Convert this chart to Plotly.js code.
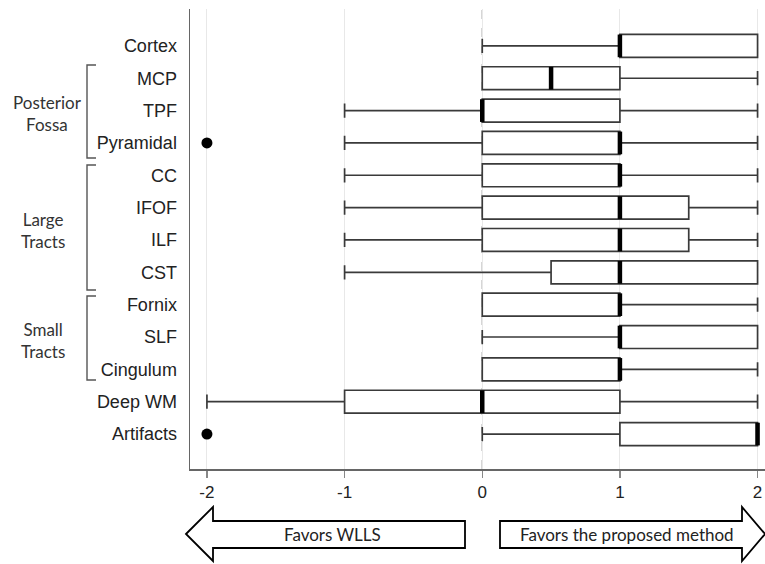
<!DOCTYPE html>
<html>
<head>
<meta charset="utf-8">
<script src="https://cdn.plot.ly/plotly-3.0.1.min.js"></script>
<style>html,body{margin:0;padding:0;background:#fff}#chart{width:765px;height:564px}</style>
</head>
<body>
<div id="chart"></div>
<script>
// ---- data ----
const categories = ['Cortex','MCP','TPF','Pyramidal','CC','IFOF','ILF','CST','Fornix','SLF','Cingulum','Deep WM','Artifacts'];
const lowerWhisker = [0, 0, -1, -1, -1, -1, -1, -1, 0, 0, 0, -2, 0];
const q1Values     = [1, 0,  0,  0,  0,  0,  0, 0.5, 0, 1, 0, -1, 1];
const medianValues = [1, 0.5, 0, 1,  1,  1,  1,  1,  1, 1, 1,  0, 2];
const q3Values     = [2, 1,  1,  1,  1, 1.5, 1.5, 2, 1, 2, 1,  1, 2];
const upperWhisker = [2, 2,  2,  2,  2,  2,  2,  2,  2, 2, 2,  2, 2];
const outlierCategories = ['Pyramidal', 'Artifacts'];
const outlierValues = [-2, -2];
const xTickValues = [-2, -1, 0, 1, 2];
const xTickLabels = ['-2', '-1', '0', '1', '2'];
const groupLabels = ['Posterior<br>Fossa', 'Large<br>Tracts', 'Small<br>Tracts'];
const arrowLabels = ['Favors WLLS', 'Favors the proposed method'];

// ---- positions (top category at top) ----
const n = categories.length;
const pos = categories.map((c, i) => n - 1 - i);
const posOf = c => pos[categories.indexOf(c)];

// plot area in pixels
const L = 190, R = 765, T = 9, B = 469;
const W = 765, H = 564;
const px = x => (x - L) / (R - L);
const py = y => (B - y) / (B - T);
const P = (x, y) => px(x).toFixed(5) + ',' + py(y).toFixed(5);

const traces = [
  {
    type: 'box', orientation: 'h',
    y: pos, q1: q1Values, median: medianValues, q3: q3Values,
    lowerfence: lowerWhisker, upperfence: upperWhisker,
    width: 0.71, whiskerwidth: 0.62,
    fillcolor: '#ffffff',
    line: {color: '#3a3a3a', width: 1.7},
    boxpoints: false, hoverinfo: 'skip', showlegend: false
  },
  {
    type: 'scatter', mode: 'markers',
    x: medianValues, y: pos,
    marker: {symbol: 'line-ns-open', size: 16.2, color: '#000', line: {color: '#000', width: 4.5}},
    hoverinfo: 'skip', showlegend: false, cliponaxis: false
  },
  {
    type: 'scatter', mode: 'markers',
    x: outlierValues, y: outlierCategories.map(posOf),
    marker: {symbol: 'circle', size: 11, color: '#000'},
    hoverinfo: 'skip', showlegend: false, cliponaxis: false
  }
];

const lineStyle = {color: '#555', width: 1.4};
function bracket(yTop, yBot) {
  return {type: 'path', xref: 'paper', yref: 'paper',
    path: 'M' + P(96, yTop) + ' L' + P(87, yTop) + ' L' + P(87, yBot) + ' L' + P(96, yBot),
    line: lineStyle};
}

const shapes = [
  {type: 'line', xref: 'x', yref: 'paper', x0: 0, x1: 0, y0: 0, y1: 1,
   line: {color: '#999', width: 1.3, dash: 'dash'}, layer: 'below'},
  bracket(65, 158), bracket(165, 290), bracket(296, 380),
  {type: 'path', xref: 'paper', yref: 'paper',
   path: 'M' + P(186, 534) + ' L' + P(213, 507) + ' L' + P(213, 521) + ' L' + P(465, 521) +
         ' L' + P(465, 548) + ' L' + P(213, 548) + ' L' + P(213, 561) + ' Z',
   line: {color: '#000', width: 1.8}, fillcolor: '#fff'},
  {type: 'path', xref: 'paper', yref: 'paper',
   path: 'M' + P(765, 534) + ' L' + P(742, 507) + ' L' + P(742, 521) + ' L' + P(500, 521) +
         ' L' + P(500, 548) + ' L' + P(742, 548) + ' L' + P(742, 561) + ' Z',
   line: {color: '#000', width: 1.8}, fillcolor: '#fff'}
];

const groupFont = {family: 'Lato, "Open Sans", sans-serif', size: 17, color: '#333'};
const annotations = [
  {text: groupLabels[0], x: px(47), y: py(113.5)},
  {text: groupLabels[1], x: px(43), y: py(230.5)},
  {text: groupLabels[2], x: px(43), y: py(340.5)}
].map(a => Object.assign(a, {xref: 'paper', yref: 'paper', showarrow: false,
  xanchor: 'center', yanchor: 'middle', align: 'center', font: groupFont}));

annotations.push(
  {text: arrowLabels[0], x: px(332), y: py(534)},
  {text: arrowLabels[1], x: px(627), y: py(534)}
);
annotations.slice(3).forEach(a => Object.assign(a, {xref: 'paper', yref: 'paper', showarrow: false,
  xanchor: 'center', yanchor: 'middle', font: {family: 'Lato, "Open Sans", sans-serif', size: 17, color: '#222'}}));

const layout = {
  width: W, height: H,
  margin: {l: L, r: W - R, t: T, b: H - B},
  paper_bgcolor: '#fff', plot_bgcolor: '#fff',
  showlegend: false,
  xaxis: {
    range: [-2.123, 2.054], tickvals: xTickValues, ticktext: xTickLabels,
    showgrid: true, gridcolor: '#e8e8e8', gridwidth: 1,
    zeroline: false, showline: true, linecolor: '#666', linewidth: 1.5,
    ticks: 'outside', ticklen: 7, tickcolor: '#888', tickwidth: 1.2,
    tickfont: {family: '"Liberation Sans", Arial, sans-serif', size: 17, color: '#222'},
    fixedrange: true
  },
  yaxis: {
    range: [-1.08, 13.14], tickvals: pos, ticktext: categories,
    showgrid: false, zeroline: false, showline: true, linecolor: '#666', linewidth: 1.5,
    ticks: '', ticklabelstandoff: 8,
    tickfont: {family: '"Liberation Sans", Arial, sans-serif', size: 18, color: '#222'},
    fixedrange: true
  },
  shapes: shapes,
  annotations: annotations
};

Plotly.newPlot('chart', traces, layout, {staticPlot: true, displayModeBar: false});
</script>
</body>
</html>
